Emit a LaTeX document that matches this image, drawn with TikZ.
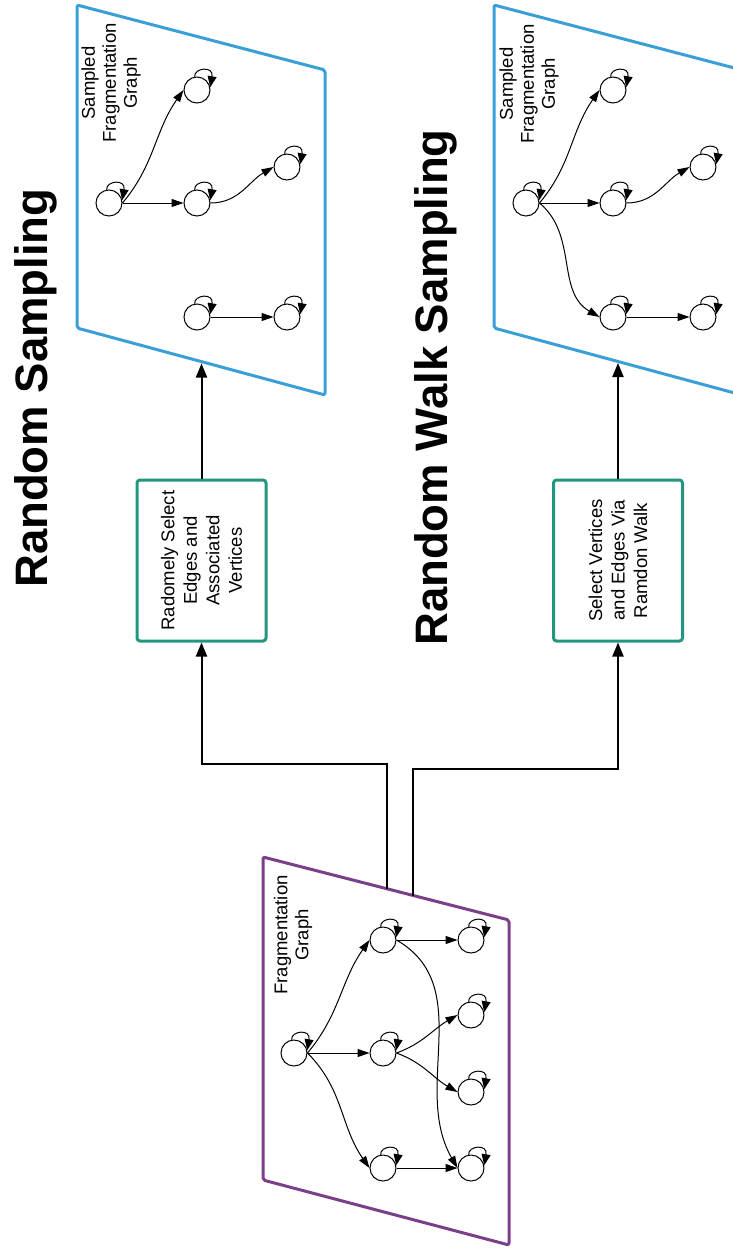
\documentclass[tikz,border=0pt]{standalone}
\usepackage{fontspec}
\setmainfont{Liberation Sans}
\usetikzlibrary{arrows.meta}
\definecolor{skyblue}{HTML}{3A9FD9}
\definecolor{plum}{HTML}{7B3F8A}
\definecolor{sagegreen}{HTML}{23977E}

% self-loop on a vertex
\newcommand\vloop[1]{\draw[loopedge] (#1.100) .. controls +(95:9) and +(80:22) .. (#1.12);}

\begin{document}
\begin{tikzpicture}[x=1pt,y=1pt,
  vtx/.style={circle,draw,line width=1pt,minimum size=26pt,inner sep=0pt,fill=white},
  edge/.style={line width=1pt,-{Triangle[length=12pt,width=8pt]}},
  loopedge/.style={line width=1pt,-{Triangle[length=11pt,width=9pt]}},
  flow/.style={line width=2pt,-{Triangle[length=14pt,width=11pt]}},
  frame/.style={line width=3pt,rounded corners=2pt,line join=round},
  stepbox/.style={draw=sagegreen,line width=3pt,rounded corners=3pt,rotate=90,
    minimum width=161pt,minimum height=129pt,inner sep=0pt,align=center,
    font=\fontsize{18.5}{22.5}\selectfont},
  lbl/.style={rotate=90,align=center,inner sep=0pt,font=\fontsize{18.5}{21}\selectfont},
  title/.style={rotate=90,anchor=base west,inner sep=0pt,font=\fontsize{45.5}{54}\selectfont\bfseries}
]
\useasboundingbox (0,0) rectangle (733,-1253);
\clip (0,0) rectangle (733,-1253);

% titles
\node[title] (t-rs) at (47,-588) {Random Sampling};
\node[title] (t-rw) at (447,-646) {Random Walk Sampling};

% frames
\draw[frame,draw=skyblue] (77,-5) -- (325,-70) -- (325,-395) -- (77,-328) -- cycle;
\draw[frame,draw=skyblue] (494,-5) -- (742,-70) -- (742,-395) -- (494,-328) -- cycle;
\draw[frame,draw=plum] (263,-857) -- (509,-920) -- (509,-1245) -- (263,-1180) -- cycle;

\coordinate (top1) at (201.5,-363.5);
\coordinate (top2) at (618,-363);
\coordinate (pin1) at (387,-889);
\coordinate (pin2) at (413,-895.5);

% sampling steps
\node[stepbox] (b1) at (201.5,-560.5) {Radomely Select\\Edges and\\Associated\\Vertices};
\node[stepbox] (b2) at (618,-560.5) {Select Vertices\\and Edges Via\\Ramdon Walk};

\draw[flow] (b1.east) -- (top1);
\draw[flow] (b2.east) -- (top2);
\draw[flow] (pin1) -- (387,-764) -| (b1.west);
\draw[flow] (pin2) -- (413,-769) -| (b2.west);

% frame labels
\node[lbl] (l1) at (111,-83) {Sampled\\Fragmentation\\Graph};
\node[lbl] (l2) at (529,-84) {Sampled\\Fragmentation\\Graph};
\node[lbl] (l3) at (293,-935) {Fragmentation\\Graph};

% sampled graph (random sampling)
\node[vtx] (a0) at (109,-203) {};
\node[vtx] (a1) at (197,-90) {};
\node[vtx] (a2) at (197,-203) {};
\node[vtx] (a3) at (287,-167) {};
\node[vtx] (a4) at (197,-317) {};
\node[vtx] (a5) at (287,-317) {};
\foreach \n in {a0,a1,a2,a3,a4,a5} {\vloop{\n}}
\draw[edge] (a0.east) to[out=50,in=235] (a1.west);
\draw[edge] (a0.east) -- (a2.west);
\draw[edge] (a2.east) to[out=0,in=210] (a3.west);
\draw[edge] (a4.east) -- (a5.west);

% sampled graph (random walk)
\node[vtx] (c0) at (526,-203) {};
\node[vtx] (c1) at (613,-90) {};
\node[vtx] (c2) at (613,-203) {};
\node[vtx] (c3) at (703,-167) {};
\node[vtx] (c4) at (613,-317) {};
\node[vtx] (c5) at (703,-317) {};
\foreach \n in {c0,c1,c2,c3,c4,c5} {\vloop{\n}}
\draw[edge] (c0.east) to[out=50,in=235] (c1.west);
\draw[edge] (c0.east) -- (c2.west);
\draw[edge] (c0.east) to[out=-40,in=150] (c4.west);
\draw[edge] (c2.east) to[out=0,in=210] (c3.west);
\draw[edge] (c4.east) -- (c5.west);

% full fragmentation graph
\node[vtx] (p0) at (294,-1053) {};
\node[vtx] (p1) at (383,-940) {};
\node[vtx] (p2) at (383,-1053) {};
\node[vtx] (p3) at (383,-1168) {};
\node[vtx] (p4) at (471,-940) {};
\node[vtx] (p5) at (471,-1015) {};
\node[vtx] (p6) at (471,-1092) {};
\node[vtx] (p7) at (471,-1168) {};
\foreach \n in {p0,p1,p2,p3,p4,p5,p6,p7} {\vloop{\n}}
\draw[edge] (p0.east) to[out=50,in=235] (p1.west);
\draw[edge] (p0.east) -- (p2.west);
\draw[edge] (p0.east) to[out=-45,in=125] (p3.west);
\draw[edge] (p1.east) -- (p4.west);
\draw[edge] (p1.east) to[out=-30,in=120] (p7.west);
\draw[edge] (p2.east) to[out=20,in=210] (p5.west);
\draw[edge] (p2.east) to[out=-20,in=150] (p6.west);
\draw[edge] (p3.east) -- (p7.west);
\end{tikzpicture}
\end{document}
